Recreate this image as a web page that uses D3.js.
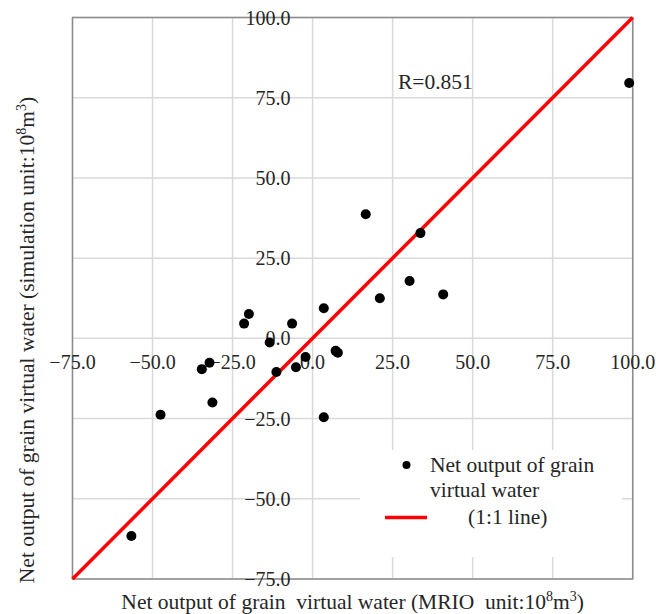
<!DOCTYPE html>
<html>
<head>
<meta charset="utf-8">
<script src="https://cdn.jsdelivr.net/npm/d3@7"></script>
<style>
  body { margin: 0; background: #fff; }
</style>
</head>
<body>
<svg id="chart" width="656" height="614" font-family="'Liberation Serif', 'Times New Roman', Times, serif"></svg>
<script>
// values (10^8 m3)
const mrio = [3.5, -19.9, -21.4, -6.4, -13.4, 7.2, 7.9, -2.2, -5.2, -11.3, -32.2,
              -34.6, -31.3, -47.5, 3.5, -56.6, 21.0, 40.8, 30.3, 16.6, 33.7, 98.9];
const simulation = [9.4, 7.6, 4.6, 4.6, -1.3, -3.9, -4.5, -5.8, -9.0, -10.5, -7.6,
                    -9.6, -20.0, -23.8, -24.6, -61.6, 12.5, 13.7, 17.9, 38.7, 32.8, 79.6];
const ticks = [-75, -50, -25, 0, 25, 50, 75, 100];
const oneToOne = [-75, 100];
const rLabel = "R=0.851";

const svg = d3.select("#chart");
const ink = "#262626";

const x = d3.scaleLinear().domain([-75, 100]).range([72.5, 632.7]);
const y = d3.scaleLinear().domain([-75, 100]).range([579, 17.5]);

// grid
const grid = svg.append("g").attr("class", "grid");
grid.selectAll("line.v")
    .data(ticks)
    .join("line")
    .attr("class", "v")
    .attr("x1", d => x(d)).attr("x2", d => x(d))
    .attr("y1", y(100)).attr("y2", y(-75))
    .attr("stroke", "#d9d9d9")
    .attr("stroke-width", 1.5);
grid.selectAll("line.h")
    .data(ticks)
    .join("line")
    .attr("class", "h")
    .attr("x1", x(-75)).attr("x2", x(100))
    .attr("y1", d => y(d)).attr("y2", d => y(d))
    .attr("stroke", "#d9d9d9")
    .attr("stroke-width", 1.5);

// frame
svg.append("rect")
    .attr("x", x(-75)).attr("y", y(100))
    .attr("width", x(100) - x(-75)).attr("height", y(-75) - y(100))
    .attr("fill", "none")
    .attr("stroke", "#8c8c8c")
    .attr("stroke-width", 1.5);

// legend background (covers the grid)
svg.append("rect")
    .attr("x", 360).attr("y", 450)
    .attr("width", 262).attr("height", 107)
    .attr("fill", "#fff");

// tick labels at the zero lines
const fmt = d3.format(".1f");
svg.append("g")
    .selectAll("text")
    .data(ticks)
    .join("text")
    .attr("x", d => x(d))
    .attr("y", y(0) + 31)
    .attr("text-anchor", "middle")
    .attr("font-size", 20)
    .attr("fill", ink)
    .text(d => fmt(d));

svg.append("g")
    .selectAll("text")
    .data(ticks)
    .join("text")
    .attr("x", x(0) - 22)
    .attr("y", d => y(d) + 7)
    .attr("text-anchor", "end")
    .attr("font-size", 20)
    .attr("fill", ink)
    .text(d => fmt(d));

// 1:1 line
svg.append("line")
    .attr("x1", x(oneToOne[0])).attr("y1", y(oneToOne[0]))
    .attr("x2", x(oneToOne[1])).attr("y2", y(oneToOne[1]))
    .attr("stroke", "#ff0000")
    .attr("stroke-width", 3.5);

// points
svg.append("g")
    .selectAll("circle")
    .data(mrio.map((d, i) => [d, simulation[i]]))
    .join("circle")
    .attr("cx", d => x(d[0]))
    .attr("cy", d => y(d[1]))
    .attr("r", 5)
    .attr("fill", "#000");

// R label
svg.append("text")
    .attr("x", 398).attr("y", 89)
    .attr("font-size", 21.5)
    .attr("fill", ink)
    .text(rLabel);

// legend
svg.append("circle")
    .attr("cx", 406.5).attr("cy", 465)
    .attr("r", 4)
    .attr("fill", "#000");
svg.append("text")
    .attr("x", 430).attr("y", 472)
    .attr("font-size", 21.5)
    .attr("fill", ink)
    .text("Net output of grain");
svg.append("text")
    .attr("x", 430).attr("y", 497)
    .attr("font-size", 21.5)
    .attr("fill", ink)
    .text("virtual water");
svg.append("line")
    .attr("x1", 385).attr("x2", 427)
    .attr("y1", 517.5).attr("y2", 517.5)
    .attr("stroke", "#ff0000")
    .attr("stroke-width", 3.5);
svg.append("text")
    .attr("x", 468).attr("y", 524)
    .attr("font-size", 21.5)
    .attr("fill", ink)
    .text("(1:1 line)");

// axis titles
function title(sel, main, tail) {
    sel.append("tspan").text(main);
    sel.append("tspan").attr("font-size", 14).attr("dy", -8).text("8");
    sel.append("tspan").attr("dy", 8).text("m");
    sel.append("tspan").attr("font-size", 14).attr("dy", -8).text("3");
    sel.append("tspan").attr("dy", 8).text(tail);
}

const xt = svg.append("text")
    .attr("x", (x(-75) + x(100)) / 2)
    .attr("y", 609)
    .attr("text-anchor", "middle")
    .attr("font-size", 21.5)
    .attr("fill", ink)
    .style("white-space", "pre");
title(xt, "Net output of grain  virtual water (MRIO  unit:10", ")");

const yt = svg.append("text")
    .attr("transform", "translate(34,340) rotate(-90)")
    .attr("text-anchor", "middle")
    .attr("font-size", 21.5)
    .attr("fill", ink);
title(yt, "Net output of grain virtual water (simulation unit:10", ")");
</script>
</body>
</html>
